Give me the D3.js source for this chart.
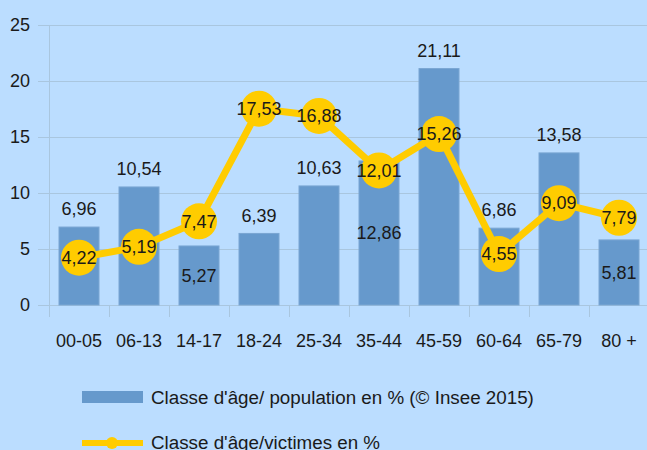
<!DOCTYPE html>
<html><head><meta charset="utf-8">
<script src="https://cdn.jsdelivr.net/npm/d3@7"></script>
<style>
html,body{margin:0;padding:0;background:#bbddff;}
svg{display:block;font-family:"Liberation Sans",Arial,sans-serif;}
</style></head>
<body>
<svg id="c" width="647" height="450"></svg>
<script>
const categories = ["00-05","06-13","14-17","18-24","25-34","35-44","45-59","60-64","65-79","80 +"];
const population = [6.96,10.54,5.27,6.39,10.63,12.86,21.11,6.86,13.58,5.81];
const victims = [4.22,5.19,7.47,17.53,16.88,12.01,15.26,4.55,9.09,7.79];
const yTicks = [0,5,10,15,20,25];
const popLabelInside = ["14-17","35-44","80 +"];
const seriesNames = ["Classe d'âge/ population en % (© Insee 2015)","Classe d'âge/victimes en %"];

(function(){
const fmt = v => v.toFixed(2).replace(".", ",");
const svg = d3.select("#c");
const W = 647, H = 450;
svg.append("rect").attr("width",W).attr("height",H).attr("fill","#bbddff");

const pLeft = 49, pRight = 649, pTop = 25, pBottom = 305;
const x = d3.scaleBand().domain(categories).range([pLeft,pRight]).paddingInner(1/3).paddingOuter(1/6);
const xb = d3.scaleBand().domain(categories).range([pLeft,pRight]);
const y = d3.scaleLinear().domain([0,25]).range([pBottom,pTop]);
const gridColor = "#a9c6df";
const txt = "#1a1a1a";

// grid
svg.append("g").selectAll("line").data(yTicks).join("line")
  .attr("x1",pLeft-11).attr("x2",W).attr("y1",d=>y(d)+0.5).attr("y2",d=>y(d)+0.5)
  .attr("stroke",gridColor).attr("stroke-width",1);
// y axis line
svg.append("line").attr("x1",pLeft+0.5).attr("x2",pLeft+0.5).attr("y1",pTop).attr("y2",pBottom+12)
  .attr("stroke",gridColor);
// category ticks
svg.append("g").selectAll("line").data(categories.slice(1)).join("line")
  .attr("x1",d=>Math.round(xb(d))+0.5).attr("x2",d=>Math.round(xb(d))+0.5)
  .attr("y1",pBottom).attr("y2",pBottom+12).attr("stroke",gridColor);

// y labels
svg.append("g").selectAll("text").data(yTicks).join("text")
  .attr("x",30).attr("y",d=>y(d)).attr("dy","0.35em").attr("text-anchor","end")
  .attr("font-size",18).attr("fill",txt).text(d=>d);
// x labels
svg.append("g").selectAll("text").data(categories).join("text")
  .attr("x",d=>xb(d)+xb.bandwidth()/2).attr("y",341).attr("dy","0.35em").attr("text-anchor","middle")
  .attr("font-size",18).attr("fill",txt).text(d=>d);

// bars
svg.append("g").selectAll("rect").data(categories).join("rect")
  .attr("x",d=>x(d)).attr("width",x.bandwidth())
  .attr("y",(d,i)=>y(population[i])).attr("height",(d,i)=>y(0)-y(population[i]))
  .attr("fill","#6699cc").attr("stroke","#7aa6d3").attr("stroke-width",1);

// bar labels
svg.append("g").selectAll("text").data(categories).join("text")
  .attr("x",d=>x(d)+x.bandwidth()/2)
  .attr("y",(d,i)=> popLabelInside.includes(d) ? (y(population[i])+y(0))/2 : y(population[i])-18)
  .attr("dy","0.35em").attr("text-anchor","middle").attr("font-size",18).attr("fill",txt)
  .text((d,i)=>fmt(population[i]));

// line
const line = d3.line().x((d,i)=>xb(categories[i])+xb.bandwidth()/2).y(d=>y(d));
svg.append("path").datum(victims).attr("d",line).attr("fill","none")
  .attr("stroke","#ffcc00").attr("stroke-width",7).attr("stroke-linejoin","round");
svg.append("g").selectAll("circle").data(victims).join("circle")
  .attr("cx",(d,i)=>xb(categories[i])+xb.bandwidth()/2).attr("cy",d=>y(d)).attr("r",18)
  .attr("fill","#ffcc00");
svg.append("g").selectAll("text").data(victims).join("text")
  .attr("x",(d,i)=>xb(categories[i])+xb.bandwidth()/2).attr("y",d=>y(d))
  .attr("dy","0.35em").attr("text-anchor","middle").attr("font-size",18).attr("fill",txt)
  .text(d=>fmt(d));

// legend
const lg = svg.append("g");
lg.append("rect").attr("x",82).attr("y",391).attr("width",61).attr("height",12).attr("fill","#6699cc");
lg.append("text").attr("x",151).attr("y",397).attr("dy","0.35em").attr("font-size",18.8).attr("fill",txt).text(seriesNames[0]);
lg.append("line").attr("x1",82).attr("x2",143).attr("y1",443).attr("y2",443).attr("stroke","#ffcc00").attr("stroke-width",6);
lg.append("circle").attr("cx",112).attr("cy",443).attr("r",6).attr("fill","#ffcc00");
lg.append("text").attr("x",151).attr("y",442).attr("dy","0.35em").attr("font-size",18.8).attr("fill",txt).text(seriesNames[1]);
})();
</script>
</body></html>
